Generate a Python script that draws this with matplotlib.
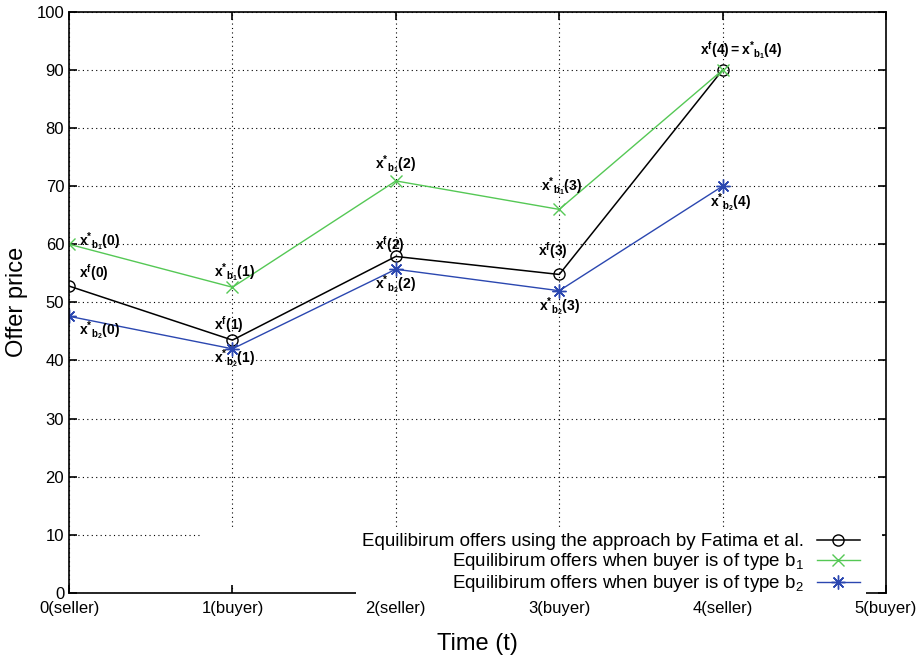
import matplotlib
matplotlib.use("Agg")
from matplotlib import pyplot as plt
from matplotlib.patches import Rectangle

plt.rcParams["font.family"] = ["Liberation Sans", "DejaVu Sans"]
plt.rcParams["mathtext.fontset"] = "custom"
plt.rcParams["mathtext.rm"] = "Liberation Sans"
plt.rcParams["mathtext.it"] = "Liberation Sans"
plt.rcParams["mathtext.bf"] = "Liberation Sans:bold"

t = [0, 1, 2, 3, 4]
tick_labels = ["0(seller)", "1(buyer)", "2(seller)", "3(buyer)", "4(seller)", "5(buyer)"]
fatima = [52.8, 43.5, 57.9, 54.8, 90]
type_b1 = [60, 52.6, 70.9, 66.0, 90]
type_b2 = [47.6, 42.0, 55.7, 52.0, 70]

# label text, x, y, pixel offset
notes = [
    (r"$\mathbf{x^{*}{}_{b_1}(0)}$", 0, type_b1[0], (10, 3), "left"),
    (r"$\mathbf{x^{f}(0)}$", 0, fatima[0], (10, 14), "left"),
    (r"$\mathbf{x^{*}{}_{b_2}(0)}$", 0, type_b2[0], (10, -14), "left"),
    (r"$\mathbf{x^{*}{}_{b_1}(1)}$", 1, type_b1[1], (2, 15), "center"),
    (r"$\mathbf{x^{f}(1)}$", 1, fatima[1], (-4, 16), "center"),
    (r"$\mathbf{x^{*}{}_{b_2}(1)}$", 1, type_b2[1], (2, -10), "center"),
    (r"$\mathbf{x^{*}{}_{b_1}(2)}$", 2, type_b1[2], (0, 16), "center"),
    (r"$\mathbf{x^{f}(2)}$", 2, fatima[2], (-6, 12), "center"),
    (r"$\mathbf{x^{*}{}_{b_2}(2)}$", 2, type_b2[2], (0, -15), "center"),
    (r"$\mathbf{x^{*}{}_{b_1}(3)}$", 3, type_b1[3], (2, 23), "center"),
    (r"$\mathbf{x^{f}(3)}$", 3, fatima[3], (-6, 24), "center"),
    (r"$\mathbf{x^{*}{}_{b_2}(3)}$", 3, type_b2[3], (0, -16), "center"),
    (r"$\mathbf{x^{f}(4){=}x^{*}{}_{b_1}(4)}$", 4, fatima[4], (18, 20), "center"),
    (r"$\mathbf{x^{*}{}_{b_2}(4)}$", 4, type_b2[4], (8, -17), "center"),
]

fig = plt.figure(figsize=(9.21, 6.58), dpi=100)
ax = fig.add_axes([0.075, 0.099, 0.887, 0.883])

ax.plot(t, fatima, color="black", marker="o", markersize=8, markerfacecolor="none",
        markeredgewidth=1.0, linewidth=1.1, label="Equilibirum offers using the approach by Fatima et al.")
ax.plot(t, type_b1, color="#55c855", marker="x", markersize=9, linewidth=1.0,
        label=r"Equilibirum offers when buyer is of type b$_1$")
ax.plot(t, type_b2, color="#2b47b0", marker=(8, 2, 0), markersize=10, linewidth=1.0,
        label=r"Equilibirum offers when buyer is of type b$_2$")

for txt, x, y, off, ha in notes:
    ax.annotate(txt, (x, y), xytext=off, textcoords="offset pixels", ha=ha, va="center",
                fontsize=10)

ax.set_xlim(0, 5)
ax.set_ylim(0, 100)
ax.set_xticks(range(6))
ax.set_xticklabels(tick_labels)
ax.set_yticks(range(0, 101, 10))
ax.tick_params(direction="in", top=True, right=True, labelsize=12, length=6, width=1.2)
ax.tick_params(axis="x", pad=6)
ax.grid(True, linestyle=(0, (1, 3)), color="black", linewidth=0.8)
for s in ax.spines.values():
    s.set_linewidth(1.2)

# white key area hides the grid behind the legend, like gnuplot's key box
ax.add_patch(Rectangle((0.16, 0.013), 0.835, 0.095, transform=ax.transAxes,
                       facecolor="white", edgecolor="none", zorder=1.6))

ax.set_xlabel("Time (t)", fontsize=17, labelpad=12)
ax.set_ylabel("Offer price", fontsize=17, labelpad=6)

leg = ax.legend(loc="lower right", bbox_to_anchor=(0.975, -0.012), markerfirst=False,
                frameon=True, fontsize=13.5, handlelength=2.3, borderaxespad=0.0,
                labelspacing=0.05, handletextpad=0.7, fancybox=False, borderpad=0.3)
leg.get_frame().set_edgecolor("none")
leg.get_frame().set_facecolor("white")
leg.get_frame().set_alpha(1)
for txt in leg.get_texts():
    txt.set_ha("right")
leg._legend_box.align = "right"

fig.savefig("out.png", dpi=100)
